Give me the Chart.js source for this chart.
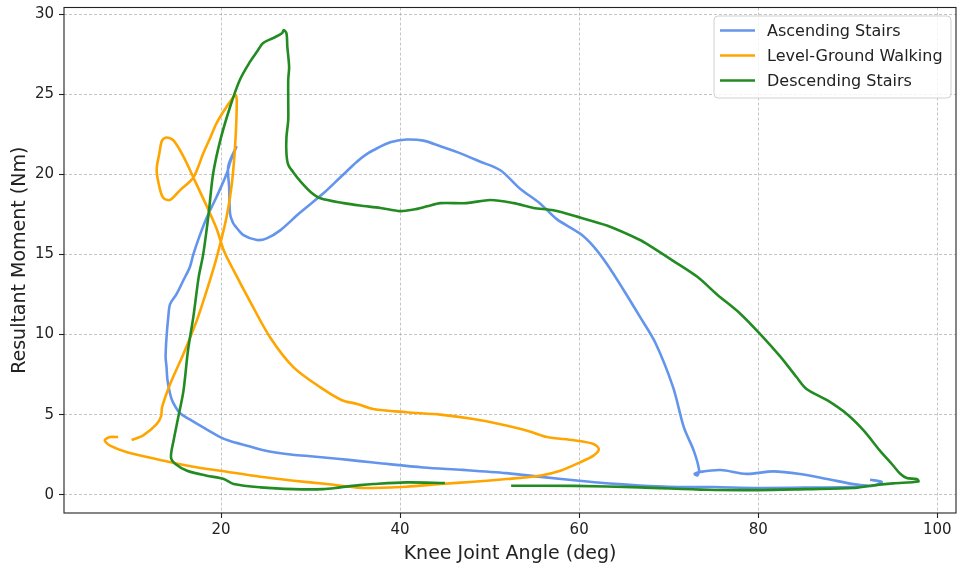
<!DOCTYPE html>
<html>
<head>
<meta charset="utf-8">
<title>Knee moment vs angle</title>
<script src="https://cdn.jsdelivr.net/npm/chart.js@4.4.1/dist/chart.umd.min.js"></script>
<style>
  body { margin: 0; background: #fff; }
  #wrap { width: 957px; height: 565px; }
</style>
</head>
<body>
<div id="wrap"><canvas id="chart" width="957" height="565"></canvas></div>
<script>
// Axis ticks
const xTicks = [20, 40, 60, 80, 100];
const yTicks = [0, 5, 10, 15, 20, 25, 30];

// Legend labels / colours, one per gait task
const taskNames = ['Ascending Stairs', 'Level-Ground Walking', 'Descending Stairs'];
const taskColors = ['#6495ed', '#ffa500', '#228b22'];

// Ascending stairs: knee angle (deg) and resultant moment (Nm), in gait order
const ascAngle = [92.5, 93.8, 93.0, 91.0, 86.0, 80.0, 75.0, 70.0, 66.8, 63.0, 60.0, 56.0, 51.9, 47.0, 42.6, 38.0,
  35.5, 33.0, 30.0, 28.0, 25.0, 22.9, 21.0, 19.9, 18.0, 16.5, 15.4, 14.6, 14.3, 14.0, 13.9, 13.8,
  13.9, 14.1, 14.3, 15.0, 15.8, 16.5, 16.9, 17.5, 18.4, 19.5, 20.6, 21.1, 21.7, 20.8, 20.9, 21.0,
  21.3, 21.6, 22.5, 24.0, 25.1, 26.6, 28.8, 31.4, 33.3, 35.2, 36.1, 37.0, 38.9, 40.7, 42.6, 44.5, 46.3,
  48.9, 51.2, 53.4, 55.6, 57.5, 60.1, 61.6, 63.1, 65.0, 66.8, 68.5, 70.5, 71.7, 72.8, 73.4, 73.2,
  72.9, 73.5, 75.8, 78.7, 81.7, 84.7, 87.7, 90.6, 92.3];
const ascMoment = [0.93, 0.8, 0.58, 0.5, 0.45, 0.42, 0.48, 0.5, 0.58, 0.72, 0.87, 1.1, 1.35, 1.55, 1.7, 1.95,
  2.1, 2.25, 2.4, 2.5, 2.75, 3.06, 3.35, 3.6, 4.2, 4.7, 5.1, 5.8, 6.3, 7.2, 8.0, 8.6,
  9.8, 11.1, 11.9, 12.5, 13.4, 14.2, 15.0, 16.0, 17.3, 18.6, 20.0, 20.9, 21.7, 20.5, 19.2, 17.55,
  17.0, 16.75, 16.2, 15.9, 16.0, 16.5, 17.6, 18.8, 19.8, 20.8, 21.2, 21.5, 22.0, 22.17, 22.1, 21.75, 21.4,
  20.8, 20.25, 19.1, 18.2, 17.2, 16.3, 15.5, 14.4, 12.75, 11.1, 9.5, 6.7, 4.2, 2.75, 1.54, 1.2,
  1.3, 1.42, 1.54, 1.3, 1.46, 1.29, 0.98, 0.67, 0.55];

// Level-ground walking
const levelAngle = [10.0, 11.3, 12.8, 13.3, 13.4, 14.3, 15.8, 17.3, 18.4, 19.5, 20.6, 21.2, 21.6, 21.75, 21.6, 20.6,
  19.5, 18.8, 18.0, 16.9, 15.4, 14.3, 13.6, 13.2, 12.8, 13.1, 13.4, 13.9, 14.7, 15.8, 16.9, 18.4,
  19.5, 20.3, 21.4, 23.2, 25.5, 28.1, 31.1, 33.5, 35.2, 37.0, 40.7, 44.5, 48.2, 51.2, 54.2, 56.4,
  59.4, 61.6, 62.2, 61.6, 60.1, 57.9, 55.6, 51.9, 48.2, 44.5, 40.7, 37.0, 35.2, 31.8, 28.1, 24.4,
  19.9, 16.9, 13.2, 9.5, 7.6, 7.0, 7.6, 8.5];
const levelMoment = [3.42, 3.7, 4.4, 4.9, 5.45, 6.9, 8.8, 10.9, 12.75, 14.8, 17.3, 19.4, 22.1, 24.6, 24.95, 24.2,
  23.2, 22.3, 21.3, 19.8, 19.0, 18.4, 18.5, 19.0, 20.25, 21.3, 22.1, 22.3, 22.1, 21.1, 19.8, 18.0,
  16.6, 15.25, 14.0, 12.1, 9.8, 7.95, 6.7, 5.9, 5.67, 5.35, 5.15, 5.0, 4.73, 4.4, 4.0, 3.6,
  3.4, 3.17, 2.85, 2.44, 2.02, 1.5, 1.19, 0.98, 0.81, 0.67, 0.5, 0.42, 0.44, 0.67, 0.875, 1.12,
  1.5, 1.75, 2.17, 2.65, 3.06, 3.4, 3.6, 3.6];

// Descending stairs
const descAngle = [52.4, 59.4, 66.8, 74.3, 79.9, 85.4, 90.6, 92.5, 95.1, 97.9, 97.7, 96.6, 95.9, 95.1, 93.6, 91.8,
  89.9, 87.7, 85.4, 84.3, 82.5, 80.2, 78.0, 75.4, 73.2, 70.5, 68.0, 66.8, 63.1, 60.1, 57.1, 54.9,
  52.7, 50.1, 47.4, 44.5, 43.0, 41.5, 40.0, 37.8, 35.5, 33.7, 31.1, 30.0, 28.8, 28.1, 27.5, 27.3,
  27.3, 27.5, 27.5, 27.5, 27.6, 27.4, 27.3, 27.0, 26.8, 25.8, 24.7, 24.0, 23.2, 22.1, 21.0, 19.9,
  19.1, 18.6, 18.0, 17.5, 16.9, 16.3, 15.8, 15.2, 14.7, 14.4, 14.9, 16.2, 18.4, 20.3, 21.4, 24.4,
  28.1, 31.4, 33.3, 35.5, 37.0, 40.7, 45.0];
const descMoment = [0.56, 0.55, 0.46, 0.31, 0.29, 0.35, 0.42, 0.56, 0.71, 0.83, 0.98, 1.04, 1.29, 1.81, 2.75, 4.0,
  5.04, 5.9, 6.6, 7.33, 8.6, 10.04, 11.3, 12.5, 13.6, 14.6, 15.5, 15.9, 16.8, 17.3, 17.75, 17.9,
  18.2, 18.4, 18.2, 18.2, 18.0, 17.8, 17.7, 17.9, 18.05, 18.2, 18.5, 18.9, 19.6, 20.1, 20.6, 21.3,
  22.3, 23.4, 24.6, 25.9, 26.7, 27.96, 28.8, 29.0, 28.8, 28.5, 28.2, 27.65, 27.0, 25.9, 24.2, 22.1,
  20.0, 17.5, 15.0, 13.6, 11.1, 9.0, 6.5, 4.8, 3.4, 2.33, 1.92, 1.5, 1.19, 0.98, 0.67, 0.46,
  0.35, 0.35, 0.46, 0.6, 0.67, 0.77, 0.73];

const FONT = 'DejaVu Sans';
const LINE_W = 2.6;

function toPoints(angle, moment) {
  return angle.map((a, i) => ({ x: a, y: moment[i] }));
}

const series = [
  toPoints(ascAngle, ascMoment),
  toPoints(levelAngle, levelMoment),
  toPoints(descAngle, descMoment)
];

// Later tasks are painted on top, so lower `order` for later datasets
const datasets = series.map((pts, i) => ({
  label: taskNames[i],
  data: pts,
  showLine: true,
  borderColor: taskColors[i],
  backgroundColor: taskColors[i],
  borderWidth: LINE_W,
  borderJoinStyle: 'round',
  borderCapStyle: 'butt',
  pointRadius: 0,
  tension: 0.3,
  order: series.length - i
}));

function roundRectPath(ctx, x, y, w, h, r) {
  ctx.beginPath();
  ctx.moveTo(x + r, y);
  ctx.lineTo(x + w - r, y);
  ctx.arcTo(x + w, y, x + w, y + r, r);
  ctx.lineTo(x + w, y + h - r);
  ctx.arcTo(x + w, y + h, x + w - r, y + h, r);
  ctx.lineTo(x + r, y + h);
  ctx.arcTo(x, y + h, x, y + h - r, r);
  ctx.lineTo(x, y + r);
  ctx.arcTo(x, y, x + r, y, r);
  ctx.closePath();
}

// Closed frame around the plot plus a boxed legend in the upper right corner
const frameAndLegend = {
  id: 'frameAndLegend',
  afterDatasetsDraw(chart) {
    const { ctx, chartArea: area } = chart;
    ctx.save();
    ctx.strokeStyle = '#222';
    ctx.lineWidth = 1.1;
    ctx.strokeRect(area.left, area.top, area.right - area.left, area.bottom - area.top);

    const boxW = 237, boxH = 82;
    const bx = area.right - 5 - boxW;
    const by = area.top + 8.5;
    roundRectPath(ctx, bx, by, boxW, boxH, 4);
    ctx.fillStyle = 'rgba(255,255,255,0.8)';
    ctx.fill();
    ctx.strokeStyle = '#d0d0d0';
    ctx.lineWidth = 1;
    ctx.stroke();

    ctx.font = `16px "${FONT}"`;
    ctx.textBaseline = 'middle';
    ctx.textAlign = 'left';
    taskNames.forEach((name, i) => {
      const rowY = by + 14.5 + i * 25;
      ctx.strokeStyle = taskColors[i];
      ctx.lineWidth = LINE_W;
      ctx.beginPath();
      ctx.moveTo(bx + 6, rowY);
      ctx.lineTo(bx + 41, rowY);
      ctx.stroke();
      ctx.fillStyle = '#222';
      ctx.fillText(name, bx + 53, rowY + 1);
    });
    ctx.restore();
  }
};

const gridStyle = {
  color: 'rgba(150,150,150,0.7)',
  lineWidth: 0.8,
  tickLength: 5,
  tickColor: '#222',
  tickWidth: 1.1,
  tickBorderDash: []
};

new Chart(document.getElementById('chart').getContext('2d'), {
  type: 'scatter',
  data: { datasets },
  plugins: [frameAndLegend],
  options: {
    responsive: false,
    animation: false,
    layout: { padding: { top: 7.5, right: 1, left: 0, bottom: 0 } },
    plugins: {
      legend: { display: false },
      tooltip: { enabled: false }
    },
    scales: {
      x: {
        type: 'linear',
        min: 2.45,
        max: 102.1,
        afterBuildTicks: scale => { scale.ticks = xTicks.map(v => ({ value: v })); },
        afterFit: scale => {
          scale.height = 52;
          scale.paddingLeft = 0;
          scale.paddingRight = 0;
        },
        grid: gridStyle,
        border: { display: false, dash: [3, 2] },
        ticks: { font: { family: FONT, size: 15 }, color: '#222', padding: 3, maxRotation: 0 },
        title: {
          display: true,
          text: 'Knee Joint Angle (deg)',
          font: { family: FONT, size: 19 },
          color: '#222',
          padding: { top: 0, bottom: 0 }
        }
      },
      y: {
        type: 'linear',
        min: -1.14,
        max: 30.41,
        afterBuildTicks: scale => { scale.ticks = yTicks.map(v => ({ value: v })); },
        afterFit: scale => {
          scale.width = 64;
          scale.paddingTop = 0;
          scale.paddingBottom = 0;
        },
        grid: gridStyle,
        border: { display: false, dash: [3, 2] },
        ticks: { font: { family: FONT, size: 15 }, color: '#222', padding: 5 },
        title: {
          display: true,
          text: 'Resultant Moment (Nm)',
          font: { family: FONT, size: 19 },
          color: '#222',
          padding: { top: 9, bottom: 0 }
        }
      }
    }
  }
});
</script>
</body>
</html>
